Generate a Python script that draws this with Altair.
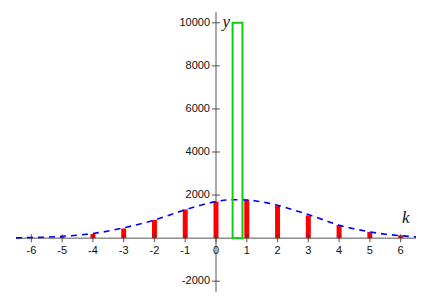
import altair as alt
import pandas as pd

# bars (integer k)
bar_k = [-6, -5, -4, -3, -2, -1, 0, 1, 2, 3, 4, 5, 6]
bar_val = [20, 60, 190, 450, 845, 1335, 1700, 1780, 1505, 1055, 605, 290, 130]

# dashed curve
curve_k = [-6.5, -6, -5.5, -5, -4.5, -4, -3.5, -3, -2.5, -2, -1.5, -1, -0.5,
           0, 0.5, 1, 1.5, 2, 2.5, 3, 3.5, 4, 4.5, 5, 5.5, 6, 6.5]
curve_val = [15, 30, 50, 85, 140, 218, 330, 480, 650, 840, 1080, 1318, 1530,
             1700, 1785, 1770, 1680, 1530, 1320, 1095, 845, 600, 430, 290, 185, 115, 60]

# green rectangle
rect_x = [0.54]
rect_x2 = [0.86]
rect_y = [0]
rect_y2 = [10000]

# axes
x_ticks = [-6, -5, -4, -3, -2, -1, 0, 1, 2, 3, 4, 5, 6]
y_ticks = [-2000, 2000, 4000, 6000, 8000, 10000]
x_dom = [-6.5, 6.5]
y_dom = [-2500, 10500]

xs = alt.Scale(domain=x_dom, nice=False, zero=False, padding=0)
ys = alt.Scale(domain=y_dom, nice=False, zero=False, padding=0)
X = lambda f: alt.X(f, type="quantitative", scale=xs, axis=None)
Y = lambda f: alt.Y(f, type="quantitative", scale=ys, axis=None)

AX = "#555555"

axes_df = pd.DataFrame({"x": [x_dom[0], 0], "x2": [x_dom[1], 0],
                        "y": [0, y_dom[0]], "y2": [0, y_dom[1]]})
axes = alt.Chart(axes_df).mark_rule(color=AX, strokeWidth=1).encode(
    x=X("x"), x2="x2", y=Y("y"), y2="y2")

xt_df = pd.DataFrame({"x": x_ticks, "y": [0] * len(x_ticks), "lab": [str(v) for v in x_ticks]})
yt_df = pd.DataFrame({"x": [0] * len(y_ticks), "y": y_ticks, "lab": [str(v) for v in y_ticks]})

xtick = alt.Chart(xt_df).mark_tick(orient="vertical", size=8, color="#333", thickness=1.2).encode(
    x=X("x"), y=Y("y"))
ytick = alt.Chart(yt_df).mark_tick(orient="horizontal", size=8, color="#333", thickness=1.2).encode(
    x=X("x"), y=Y("y"))

xlab = alt.Chart(xt_df).mark_text(font="Liberation Sans", fontSize=11, color="#111",
                                   align="center", baseline="top", dy=7).encode(
    x=X("x"), y=Y("y"), text="lab")
ylab = alt.Chart(yt_df).mark_text(font="Liberation Sans", fontSize=11, color="#111",
                                   align="right", baseline="middle", dx=-6).encode(
    x=X("x"), y=Y("y"), text="lab")

bars_df = pd.DataFrame({"k": bar_k, "v": bar_val, "z": [0] * len(bar_k)})
bars = alt.Chart(bars_df).mark_bar(color="#ff0000", size=5).encode(
    x=X("k"), y=Y("v"), y2="z")

curve_df = pd.DataFrame({"k": curve_k, "v": curve_val})
curve = alt.Chart(curve_df).mark_line(color="#0000ff", strokeWidth=1.6, strokeDash=[6, 5],
                                      interpolate="monotone").encode(
    x=X("k"), y=Y("v"))

rect_df = pd.DataFrame({"x": rect_x, "x2": rect_x2, "y": rect_y, "y2": rect_y2})
rect = alt.Chart(rect_df).mark_rect(filled=False, stroke="#11cc11", strokeWidth=2).encode(
    x=X("x"), x2="x2", y=Y("y"), y2="y2")

name_df = pd.DataFrame({"x": [0.33, 6.17], "y": [10050, 930], "lab": ["y", "k"]})
names = alt.Chart(name_df).mark_text(font="Liberation Serif", fontStyle="italic", fontSize=17,
                                     color="#111", align="center", baseline="middle").encode(
    x=X("x"), y=Y("y"), text="lab")

chart = alt.layer(axes, bars, curve, rect, xtick, ytick, xlab, ylab, names).properties(
    width=400, height=280,
    autosize=alt.AutoSizeParams(type="none"),
    padding={"left": 8, "top": 4, "right": 12, "bottom": 5},
).configure_view(stroke=None)

chart.save("out.html", embed_options={"renderer": "svg", "actions": False})
